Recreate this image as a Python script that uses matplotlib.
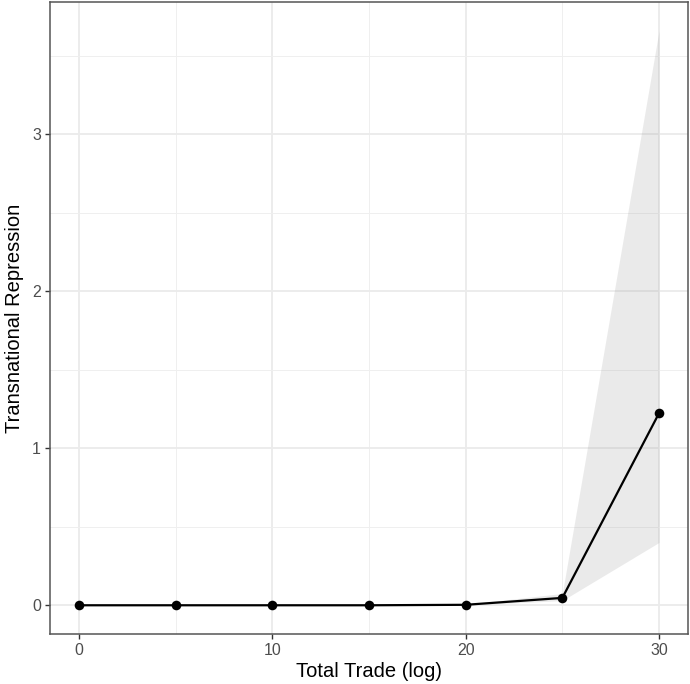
import matplotlib
matplotlib.use("Agg")
import matplotlib.pyplot as plt
import numpy as np

x = [0, 5, 10, 15, 20, 25, 30]
y = [0.0, 0.0, 0.0, 0.0, 0.003, 0.047, 1.223]
lower = [0.0, 0.0, 0.0, 0.0, 0.001, 0.03, 0.40]
upper = [0.0, 0.0, 0.0, 0.0, 0.006, 0.075, 3.66]

x_major = [0, 10, 20, 30]
x_minor = [5, 15, 25]
y_major = [0, 1, 2, 3]
y_minor = [0.5, 1.5, 2.5, 3.5]

plt.rcParams['font.family'] = ['Liberation Sans', 'DejaVu Sans']
fig = plt.figure(figsize=(6.9, 6.84), dpi=100)
ax = fig.add_axes([50/690, 1-634/684, (688-50)/690, (634-2)/684])

ax.fill_between(x, lower, upper, color='#999999', alpha=0.2, linewidth=0, zorder=2)
ax.plot(x, y, color='black', lw=1.6, zorder=3)
ax.scatter(x, y, color='black', s=48, zorder=4, linewidths=0)

rng_x = max(x) - min(x)
ax.set_xlim(min(x) - 0.05*rng_x, max(x) + 0.05*rng_x)
ymin, ymax = min(lower), max(upper)
rng_y = ymax - ymin
ax.set_ylim(ymin - 0.05*rng_y, ymax + 0.05*rng_y)

ax.set_xticks(x_major)
ax.set_xticks(x_minor, minor=True)
ax.set_yticks(y_major)
ax.set_yticks(y_minor, minor=True)
ax.set_xticklabels([str(v) for v in x_major])
ax.set_yticklabels([str(v) for v in y_major])
ax.grid(which='major', color='#EBEBEB', lw=1.3, zorder=0)
ax.grid(which='minor', color='#EFEFEF', lw=0.7, zorder=0)
ax.set_axisbelow(True)
ax.tick_params(which='major', length=3.5, width=1.0, color='#333333', labelcolor='#4D4D4D', labelsize=11.5, pad=3)
ax.tick_params(which='minor', length=0)
for s in ax.spines.values():
    s.set_color('#555555')
    s.set_linewidth(1.1)

ax.set_xlabel('Total Trade (log)', fontsize=14.5, labelpad=3)
ax.set_ylabel('Transnational Repression', fontsize=14.5, labelpad=6)

fig.savefig('out.png', dpi=100)
